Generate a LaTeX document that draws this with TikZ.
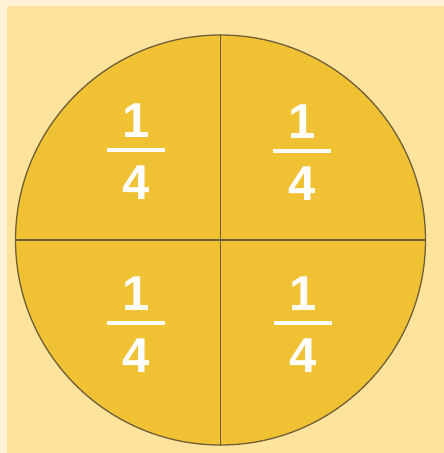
\documentclass[tikz,border=0pt]{standalone}
\usepackage{fontspec}
\setmainfont{Liberation Sans}
\definecolor{outerbg}{HTML}{FFF1D6}
\definecolor{innerbg}{HTML}{FDE39C}
\definecolor{pie}{HTML}{EFC133}
\definecolor{edge}{HTML}{6E5F38}
\tikzset{
  digit/.style={text=white, font=\fontsize{49}{49}\selectfont\bfseries, inner sep=0pt, anchor=base},
  fracbar/.style={fill=white, draw=none},
  divider/.style={draw=edge, line width=1.6pt},
}
\begin{document}
\begin{tikzpicture}[x=1pt,y=-1pt]
\useasboundingbox (0,0) rectangle (444,453);
\fill[outerbg] (0,0) rectangle (444,453);
\fill[innerbg] (7,6) rectangle (444,453);
\node[circle, fill=pie, draw=edge, line width=1.3pt, minimum size=410pt, inner sep=0pt] (disc) at (220.5,240) {};
\draw[divider] (disc.north) -- (disc.south);
\draw[divider] (disc.west) -- (disc.east);
% fractions
\foreach \n/\x/\y in {tl/136/150, tr/302/151, bl/136/323, br/303/323}{
  \fill[fracbar] (\x-29,\y-2) rectangle (\x+29,\y+2);
  \node[digit] (num\n) at (\x,\y-13) {1};
  \node[digit] (den\n) at (\x,\y+49) {4};
}
\end{tikzpicture}
\end{document}
